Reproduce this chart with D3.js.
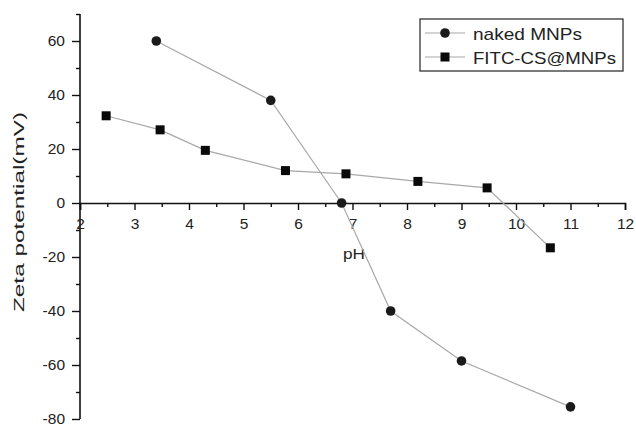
<!DOCTYPE html>
<html>
<head>
<meta charset="utf-8">
<script src="https://cdn.jsdelivr.net/npm/d3@7"></script>
<style>
  body { margin: 0; background: #fff; }
  text { font-family: "Liberation Sans", Arial, sans-serif; fill: #222; }
</style>
</head>
<body>
<div id="chart"></div>
<script>
// Data
const nakedPH = [3.4, 5.5, 6.8, 7.7, 9.0, 11.0];
const nakedZeta = [60, 38, 0, -40, -58.5, -75.5];
const fitcPH = [2.48, 3.47, 4.3, 5.77, 6.88, 8.2, 9.47, 10.63];
const fitcZeta = [32.3, 27.1, 19.5, 12, 10.8, 8, 5.6, -16.6];
const xTicks = [2, 3, 4, 5, 6, 7, 8, 9, 10, 11, 12];
const xMinor = [2.5, 3.5, 4.5, 5.5, 6.5, 7.5, 8.5, 9.5, 10.5, 11.5];
const yTicks = [-80, -60, -40, -20, 0, 20, 40, 60];
const yMinor = [-70, -50, -30, -10, 10, 30, 50, 70];
const seriesNames = ['naked MNPs', 'FITC-CS@MNPs'];

const W = 636, H = 426;
const svg = d3.select('#chart').append('svg')
    .attr('width', W).attr('height', H);

const x = d3.scaleLinear().domain([2, 12]).range([80, 625]);
const y = d3.scaleLinear().domain([-80, 70]).range([419, 14]);

// plain hyphen for negatives, like the original figure
const fmt = d => String(d);

// Y axis
const yAxis = svg.append('g')
    .attr('transform', `translate(${x(2)},0)`)
    .call(d3.axisLeft(y).tickValues(yTicks).tickFormat(fmt).tickSize(8).tickPadding(7));
yAxis.select('.domain').attr('d', `M0,${y(-80)}V${y(70)}`);
svg.append('g')
    .attr('transform', `translate(${x(2)},0)`)
    .call(d3.axisLeft(y).tickValues(yMinor).tickSize(4).tickFormat(''))
    .select('.domain').remove();

// X axis at zero
svg.append('g')
    .attr('transform', `translate(0,${y(0)})`)
    .call(d3.axisBottom(x).tickValues(xTicks).tickFormat(fmt).tickSize(7).tickPadding(8));
svg.append('g')
    .attr('transform', `translate(0,${y(0)})`)
    .call(d3.axisBottom(x).tickValues(xMinor).tickSize(4).tickFormat(''))
    .select('.domain').remove();

svg.selectAll('.domain').attr('stroke', '#111').attr('stroke-width', 1.6);
svg.selectAll('.tick line').attr('stroke', '#111').attr('stroke-width', 1.4);
svg.selectAll('.tick text')
    .style('font-size', '15.5px')
    .style('font-family', '"Liberation Sans", Arial, sans-serif')
    .attr('fill', '#222');

// Axis titles
svg.append('text')
    .attr('transform', 'rotate(-90)')
    .attr('x', -212).attr('y', 24)
    .attr('text-anchor', 'middle')
    .attr('textLength', 200)
    .attr('lengthAdjust', 'spacingAndGlyphs')
    .style('font-size', '15.5px')
    .text('Zeta potential(mV)');

svg.append('text')
    .attr('x', 354).attr('y', 259)
    .attr('text-anchor', 'middle')
    .attr('textLength', 22)
    .attr('lengthAdjust', 'spacingAndGlyphs')
    .style('font-size', '15px')
    .text('pH');

// Lines
const line = d3.line().x(d => x(d[0])).y(d => y(d[1]));
const naked = d3.zip(nakedPH, nakedZeta);
const fitc = d3.zip(fitcPH, fitcZeta);

[naked, fitc].forEach(data => {
    svg.append('path')
        .datum(data)
        .attr('d', line)
        .attr('fill', 'none')
        .attr('stroke', '#a8a8a8')
        .attr('stroke-width', 1.2);
});

svg.selectAll('.pt-naked')
    .data(naked)
    .enter().append('circle')
    .attr('cx', d => x(d[0]))
    .attr('cy', d => y(d[1]))
    .attr('r', 4.8)
    .attr('fill', '#1a1a1a');

svg.selectAll('.pt-fitc')
    .data(fitc)
    .enter().append('rect')
    .attr('x', d => x(d[0]) - 4.5)
    .attr('y', d => y(d[1]) - 4.5)
    .attr('width', 9).attr('height', 9)
    .attr('fill', '#0a0a0a');

// Legend
const legend = svg.append('g');
legend.append('rect')
    .attr('x', 420).attr('y', 19)
    .attr('width', 203).attr('height', 52)
    .attr('fill', '#fff')
    .attr('stroke', '#333').attr('stroke-width', 1.3);

const legendWidths = [109, 143];
seriesNames.forEach((name, i) => {
    const ly = 33 + i * 24;
    legend.append('line')
        .attr('x1', 425).attr('x2', 465)
        .attr('y1', ly).attr('y2', ly)
        .attr('stroke', '#a8a8a8').attr('stroke-width', 1.2);
    if (i === 0) {
        legend.append('circle').attr('cx', 445).attr('cy', ly).attr('r', 4.8).attr('fill', '#1a1a1a');
    } else {
        legend.append('rect').attr('x', 440.5).attr('y', ly - 4.5).attr('width', 9).attr('height', 9).attr('fill', '#0a0a0a');
    }
    legend.append('text')
        .attr('x', 473).attr('y', ly + 7)
        .attr('textLength', legendWidths[i])
        .attr('lengthAdjust', 'spacingAndGlyphs')
        .style('font-size', '17px')
        .text(name);
});
</script>
</body>
</html>
